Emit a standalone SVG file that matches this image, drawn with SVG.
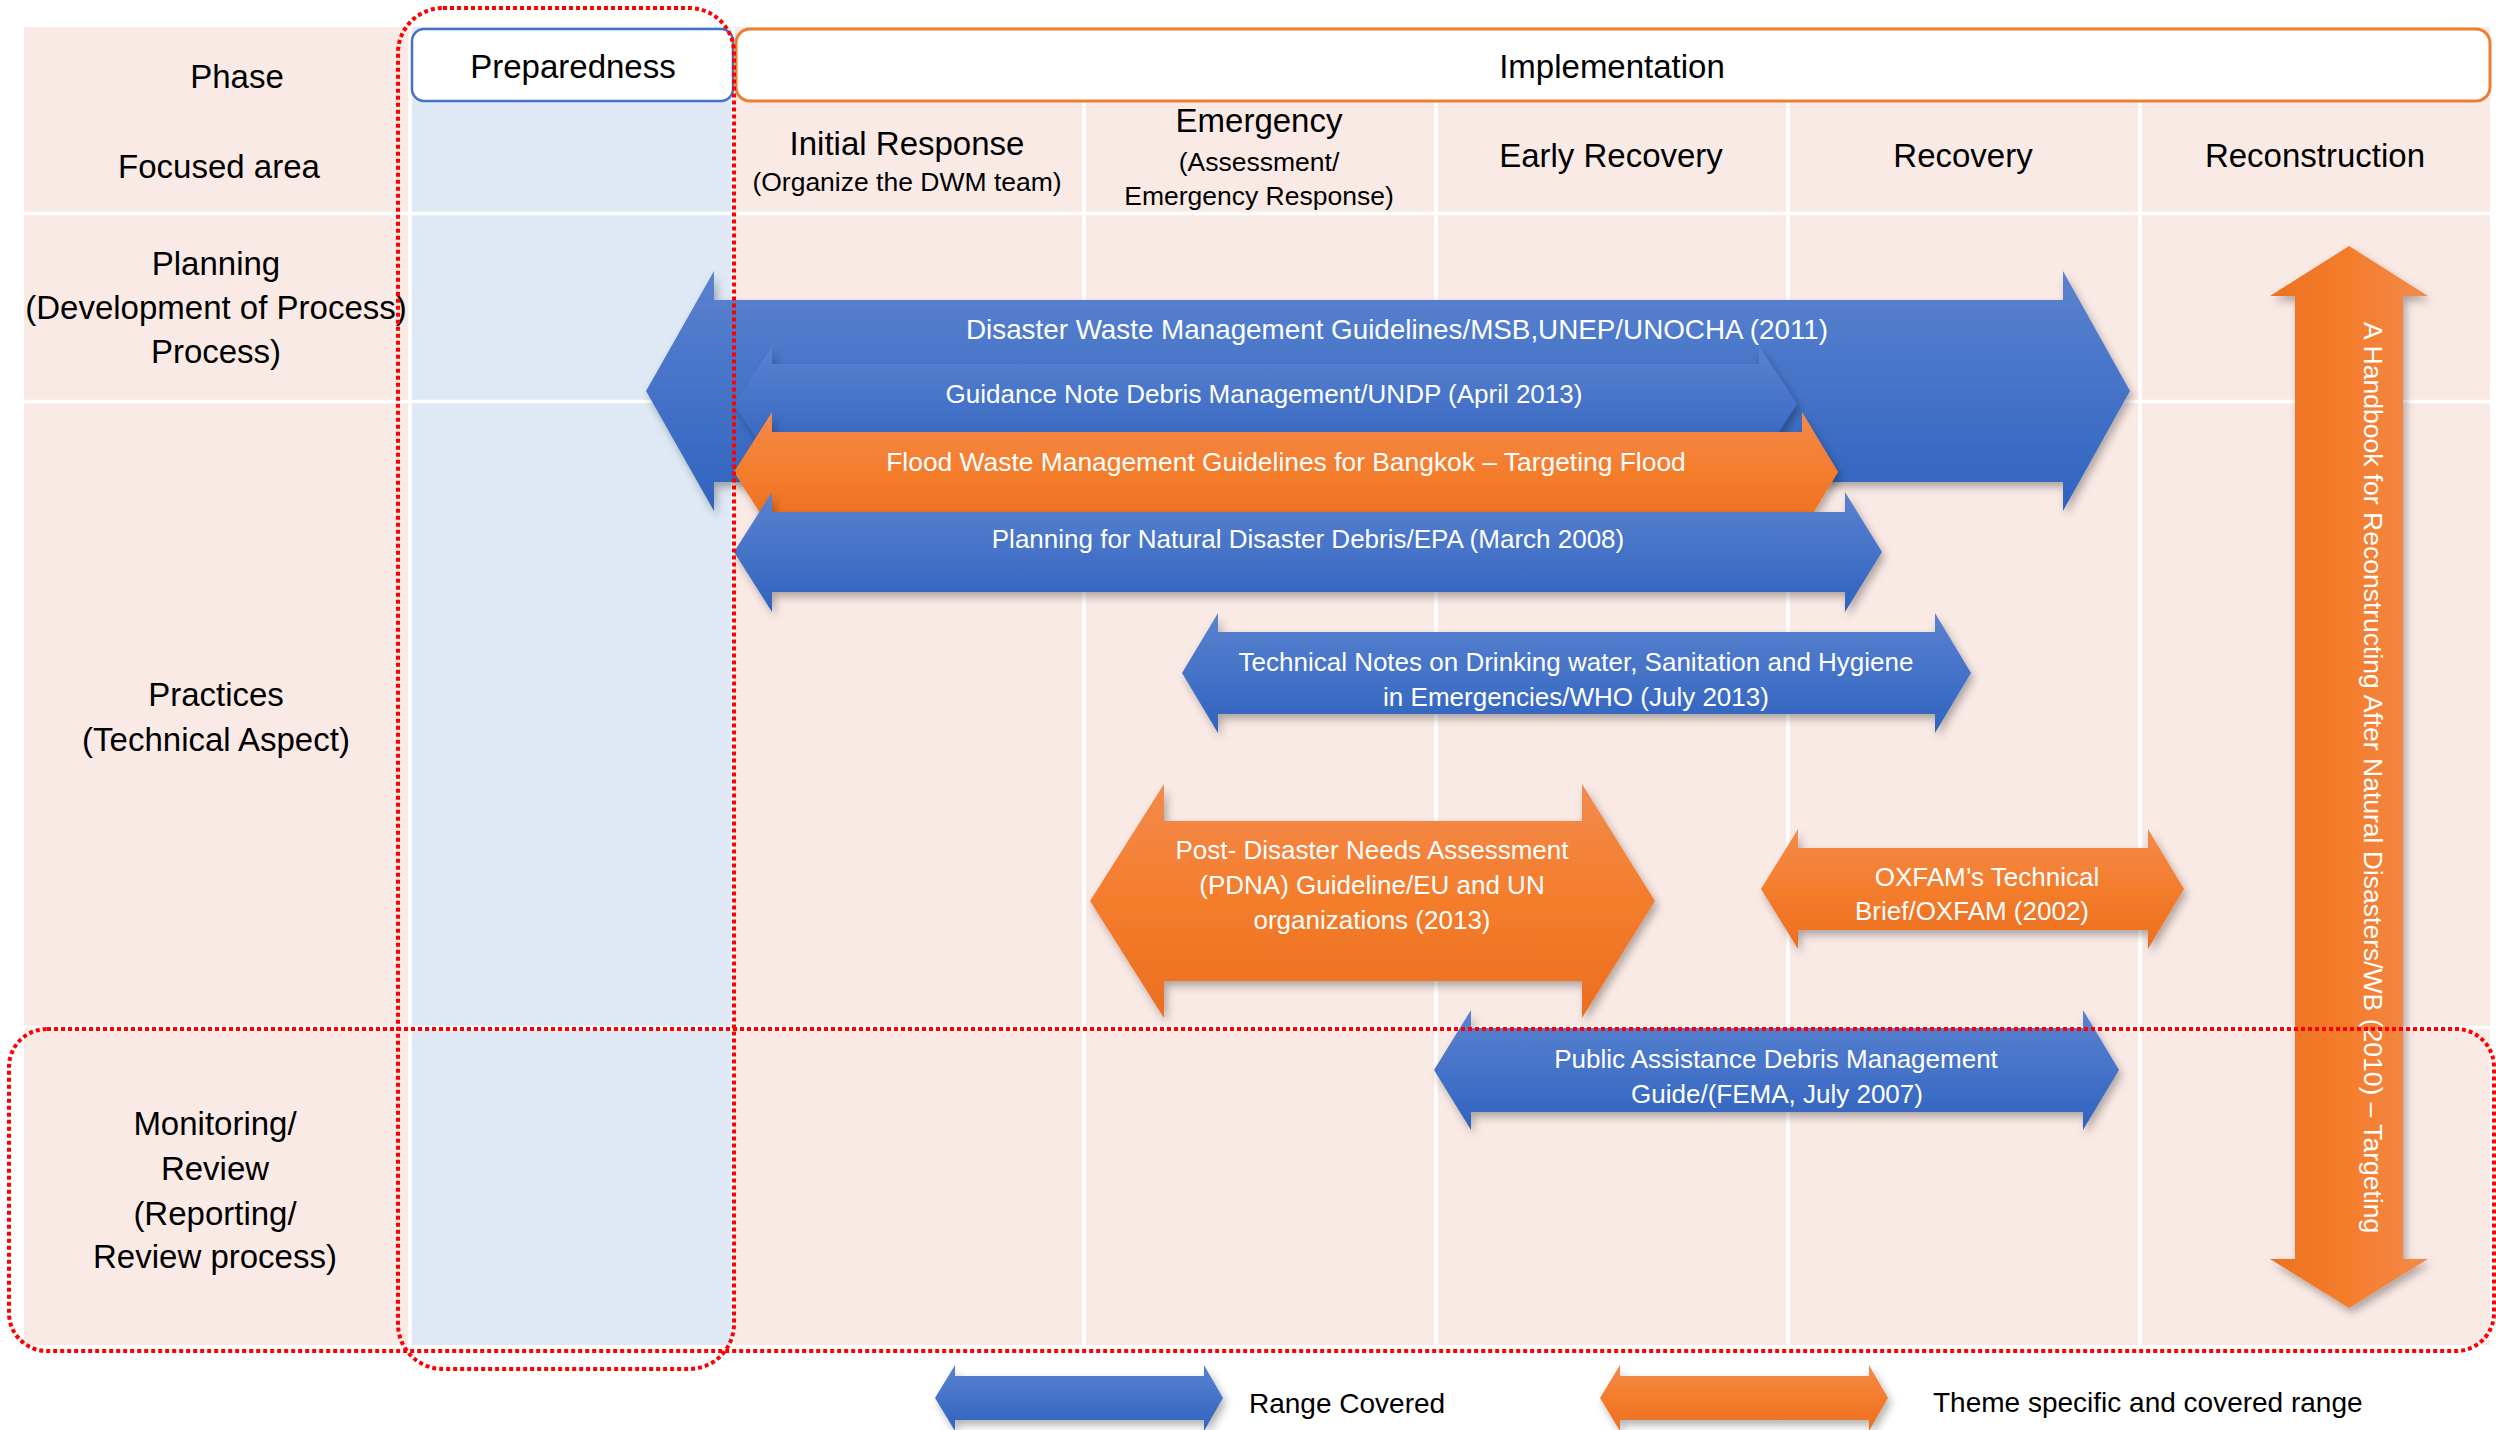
<svg xmlns="http://www.w3.org/2000/svg" width="2496" height="1430" viewBox="0 0 2496 1430">
<defs>
<style>
.hd{font-family:"Liberation Sans",Arial,sans-serif;font-size:33px;fill:#000;text-anchor:middle}
.sub{font-size:26.5px}
.lb{font-family:"Liberation Sans",Arial,sans-serif;font-size:26px;fill:#fff;text-anchor:middle}
.lg{font-family:"Liberation Sans",Arial,sans-serif;font-size:28px;fill:#000}
.dash{fill:none;stroke:#FF0000;stroke-width:4;stroke-dasharray:4 3}
.grid{stroke:#fff;stroke-width:3.5}
.ab{fill:url(#gb);filter:url(#sh)}
.ao{fill:url(#go);filter:url(#sh)}
</style>
<linearGradient id="gb" x1="0" y1="0" x2="0" y2="1"><stop offset="0" stop-color="#5A82CE"/><stop offset="0.5" stop-color="#4573C8"/><stop offset="1" stop-color="#3063BE"/></linearGradient>
<linearGradient id="go" x1="0" y1="0" x2="0" y2="1"><stop offset="0" stop-color="#F38A4C"/><stop offset="0.5" stop-color="#F47D2C"/><stop offset="1" stop-color="#EB6E1F"/></linearGradient>
<linearGradient id="gov" x1="0" y1="0" x2="1" y2="0"><stop offset="0" stop-color="#EC7220"/><stop offset="0.5" stop-color="#F47D2C"/><stop offset="1" stop-color="#F38A4C"/></linearGradient>
<filter id="sh" x="-10%" y="-10%" width="125%" height="135%"><feDropShadow dx="3" dy="5" stdDeviation="4" flood-color="#000" flood-opacity="0.3"/></filter>
</defs>
<rect width="2496" height="1430" fill="#fff"/>
<g id="table">
<rect x="24" y="27" width="2466" height="1318" fill="#FAEAE6"/>
<rect x="412" y="27" width="319" height="1318" fill="#DEE9F5"/>
<line class="grid" x1="410" y1="27" x2="410" y2="1345"/>
<line class="grid" x1="733" y1="27" x2="733" y2="1345"/>
<line class="grid" x1="1084" y1="101" x2="1084" y2="1345"/>
<line class="grid" x1="1436" y1="101" x2="1436" y2="1345"/>
<line class="grid" x1="1788" y1="101" x2="1788" y2="1345"/>
<line class="grid" x1="2140" y1="101" x2="2140" y2="1345"/>
<line class="grid" x1="24" y1="213.5" x2="2490" y2="213.5"/>
<line class="grid" x1="24" y1="401.5" x2="2490" y2="401.5"/>
<line class="grid" x1="24" y1="1027.5" x2="2490" y2="1027.5"/>
</g>
<g id="phase-preparedness">
<rect x="412" y="29" width="321" height="72" rx="12" fill="#fff" stroke="#4472C4" stroke-width="2.5"/>
<text class="hd" x="573" y="78">Preparedness</text>
</g>
<g id="phase-implementation">
<rect x="736" y="29" width="1754" height="72" rx="14" fill="#fff" stroke="#ED7D31" stroke-width="3"/>
<text class="hd" x="1612" y="78">Implementation</text>
</g>
<g id="row-labels">
<text class="hd" x="237" y="88">Phase</text>
<text class="hd" x="219" y="178">Focused area</text>
<text class="hd" x="216" y="275">Planning</text>
<text class="hd" x="216" y="319">(Development of Process)</text>
<text class="hd" x="216" y="363">Process)</text>
<text class="hd" x="216" y="706">Practices</text>
<text class="hd" x="216" y="751">(Technical Aspect)</text>
<text class="hd" x="215" y="1135">Monitoring/</text>
<text class="hd" x="215" y="1180">Review</text>
<text class="hd" x="215" y="1225">(Reporting/</text>
<text class="hd" x="215" y="1268">Review process)</text>
</g>
<g id="column-headers">
<text class="hd" x="907" y="155">Initial Response</text>
<text class="hd sub" x="907" y="191">(Organize the DWM team)</text>
<text class="hd" x="1259" y="132">Emergency</text>
<text class="hd sub" x="1259" y="171">(Assessment/</text>
<text class="hd sub" x="1259" y="205">Emergency Response)</text>
<text class="hd" x="1611" y="167">Early Recovery</text>
<text class="hd" x="1963" y="167">Recovery</text>
<text class="hd" x="2315" y="167">Reconstruction</text>
</g>
<g id="arrow-dwm-guidelines">
<polygon class="ab" points="646,391 714,271 714,300 2063,300 2063,271 2130,391 2063,511 2063,482 714,482 714,511"/>
<text class="lb" x="1397" y="339" style="font-size:27.8px">Disaster Waste Management Guidelines/MSB,UNEP/UNOCHA (2011)</text>
</g>
<g id="arrow-undp">
<polygon class="ab" points="734,404 772,346 772,364 1759,364 1759,346 1797,404 1759,462 1759,444 772,444 772,462"/>
<text class="lb" x="1264" y="403">Guidance Note Debris Management/UNDP (April 2013)</text>
</g>
<g id="arrow-bangkok">
<polygon class="ao" points="734,472 772,412 772,432 1802,432 1802,412 1838,472 1802,532 1802,512 772,512 772,532"/>
<text class="lb" x="1286" y="471" style="font-size:26.4px">Flood Waste Management Guidelines for Bangkok – Targeting Flood</text>
</g>
<g id="arrow-epa">
<polygon class="ab" points="734,552 772,492 772,512 1845,512 1845,492 1882,552 1845,612 1845,592 772,592 772,612"/>
<text class="lb" x="1308" y="548">Planning for Natural Disaster Debris/EPA (March 2008)</text>
</g>
<g id="arrow-who">
<polygon class="ab" points="1182,673 1218,613 1218,632 1935,632 1935,613 1971,673 1935,733 1935,714 1218,714 1218,733"/>
<text class="lb" x="1576" y="671">Technical Notes on Drinking water, Sanitation and Hygiene</text>
<text class="lb" x="1576" y="706">in Emergencies/WHO (July 2013)</text>
</g>
<g id="arrow-pdna">
<polygon class="ao" points="1090,901 1164,784 1164,821 1582,821 1582,784 1655,901 1582,1018 1582,981 1164,981 1164,1018"/>
<text class="lb" x="1372" y="859">Post- Disaster Needs Assessment</text>
<text class="lb" x="1372" y="894">(PDNA) Guideline/EU and UN</text>
<text class="lb" x="1372" y="929">organizations (2013)</text>
</g>
<g id="arrow-oxfam">
<polygon class="ao" points="1761,889 1798,829 1798,848 2148,848 2148,829 2184,889 2148,949 2148,930 1798,930 1798,949"/>
<text class="lb" x="1987" y="886">OXFAM’s Technical</text>
<text class="lb" x="1972" y="920">Brief/OXFAM (2002)</text>
</g>
<g id="arrow-fema">
<polygon class="ab" points="1434,1070 1471,1010 1471,1028 2083,1028 2083,1010 2119,1070 2083,1130 2083,1112 1471,1112 1471,1130"/>
<text class="lb" x="1776" y="1068">Public Assistance Debris Management</text>
<text class="lb" x="1777" y="1103">Guide/(FEMA, July 2007)</text>
</g>
<g id="arrow-wb-handbook">
<polygon fill="url(#gov)" filter="url(#sh)" points="2349,246 2428,296 2403,296 2403,1259 2428,1259 2349,1308 2270,1259 2295,1259 2295,296 2270,296"/>
<text class="lb" style="text-anchor:start;font-size:26.5px" transform="translate(2364,322) rotate(90)">A Handbook for Reconstructing After Natural Disasters/WB (2010) – Targeting</text>
</g>
<g id="legend">
<polygon class="ab" points="935,1398 955,1365 955,1376 1204,1376 1204,1365 1223,1398 1204,1431 1204,1420 955,1420 955,1431"/>
<text class="lg" x="1249" y="1413">Range Covered</text>
<polygon class="ao" points="1600,1398 1620,1365 1620,1376 1869,1376 1869,1365 1888,1398 1869,1431 1869,1420 1620,1420 1620,1431"/>
<text class="lg" x="1933" y="1412">Theme specific and covered range</text>
</g>
<g id="highlights">
<rect class="dash" x="398" y="8" width="336" height="1361" rx="45"/>
<rect class="dash" x="9" y="1029" width="2485" height="322" rx="38"/>
</g>
</svg>
